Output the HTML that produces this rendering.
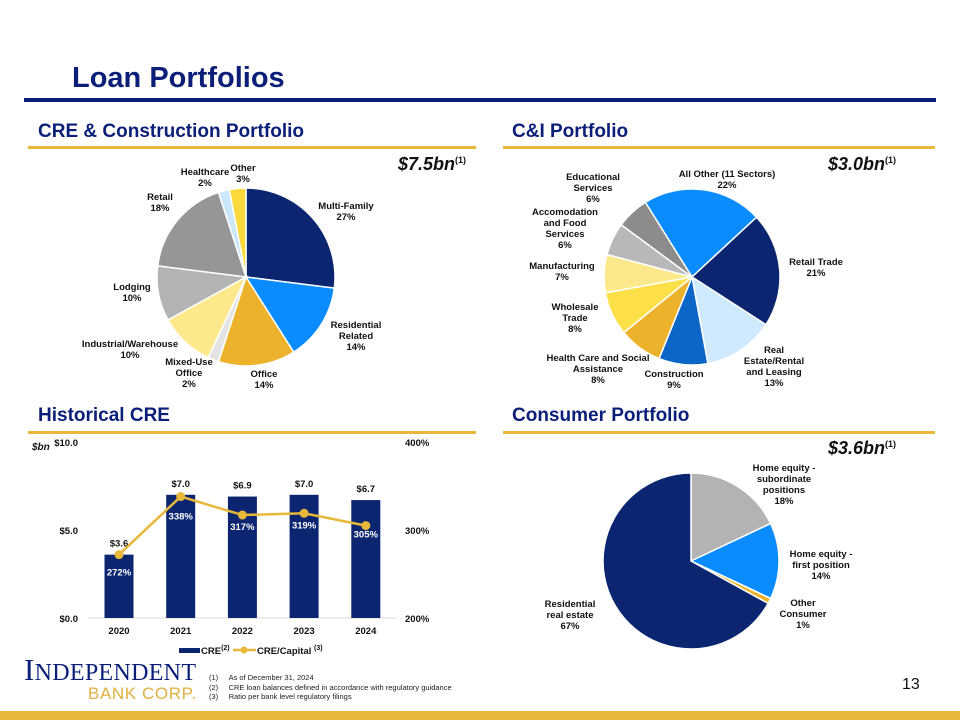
<!DOCTYPE html>
<html><head><meta charset="utf-8"><style>
body{margin:0;background:#fff;font-family:"Liberation Sans",Arial,sans-serif;}
#page{position:relative;width:960px;height:720px;overflow:hidden;background:#fff;}
.abs{position:absolute;}
.h2{position:absolute;font-size:19px;font-weight:bold;color:#0b1f78;}
.gold{position:absolute;height:3px;background:#e8b83a;}
.tot{position:absolute;font-size:18px;font-weight:bold;font-style:italic;color:#111;}
.tot sup{font-size:9px;font-style:normal;}
svg text{font-family:"Liberation Sans",Arial,sans-serif;font-weight:bold;}
</style></head><body>
<div id="page">
<div class="abs" style="left:72px;top:62px;font-size:29px;font-weight:bold;color:#0b1f78;">Loan Portfolios</div>
<div class="abs" style="left:24px;top:98px;width:912px;height:4px;background:#0b1f78;"></div>

<div class="h2" style="left:38px;top:121px;">CRE &amp; Construction Portfolio</div>
<div class="gold" style="left:28px;top:146px;width:448px;"></div>
<div class="h2" style="left:512px;top:121px;">C&amp;I Portfolio</div>
<div class="gold" style="left:503px;top:146px;width:432px;"></div>
<div class="h2" style="left:38px;top:405px;">Historical CRE</div>
<div class="gold" style="left:28px;top:431px;width:448px;"></div>
<div class="h2" style="left:512px;top:405px;">Consumer Portfolio</div>
<div class="gold" style="left:503px;top:431px;width:432px;"></div>

<div class="tot" style="left:398px;top:154px;">$7.5bn<sup>(1)</sup></div>
<div class="tot" style="left:828px;top:154px;">$3.0bn<sup>(1)</sup></div>
<div class="tot" style="left:828px;top:438px;">$3.6bn<sup>(1)</sup></div>

<svg class="abs" style="left:0;top:0" width="960" height="720" id="svg"></svg>

<div class="abs" style="left:24px;top:652px;font-family:'Liberation Serif',serif;font-size:31px;color:#0b1f78;letter-spacing:0.3px;">I<span style="font-size:24px">NDEPENDENT</span></div>
<div class="abs" style="left:88px;top:684px;font-size:17px;color:#e0b040;letter-spacing:0.6px;">BANK CORP.</div>
<div class="abs" style="left:209px;top:673px;font-size:7.5px;color:#222;line-height:9.7px;">
<div>(1)&nbsp;&nbsp;&nbsp;&nbsp;&nbsp;As of December 31, 2024</div>
<div>(2)&nbsp;&nbsp;&nbsp;&nbsp;&nbsp;CRE loan balances defined in accordance with regulatory guidance</div>
<div>(3)&nbsp;&nbsp;&nbsp;&nbsp;&nbsp;Ratio per bank level regulatory filings</div></div>
<div class="abs" style="left:902px;top:676px;font-size:16px;color:#111;">13</div>
<div class="abs" style="left:0;top:711px;width:960px;height:9px;background:#e8b83a;"></div>
</div>
<script>
const NS='http://www.w3.org/2000/svg';
const svg=document.getElementById('svg');
function mk(tag,attrs,parent){const e=document.createElementNS(NS,tag);for(const k in attrs)e.setAttribute(k,attrs[k]);(parent||svg).appendChild(e);return e;}

// CRE pie data
const creLabels=['Multi-Family','Residential Related','Office','Mixed-Use Office','Industrial/Warehouse','Lodging','Retail','Healthcare','Other'];
const creValues=[27,14,14,2,10,10,18,2,3];
const creColors=['#0b2570','#0a8cff','#edb22b','#e4e4e4','#fde98b','#b3b3b3','#969696','#cbe8fb','#f9d93c'];
// C&I pie data
const ciLabels=['All Other (11 Sectors)','Retail Trade','Real Estate/Rental and Leasing','Construction','Health Care and Social Assistance','Wholesale Trade','Manufacturing','Accomodation and Food Services','Educational Services'];
const ciValues=[22,21,13,9,8,8,7,6,6];
const ciColors=['#0a8cff','#0b2570','#cfeafc','#0b66c8','#edb22b','#fde047','#fde98b','#b8b8b8','#8c8c8c'];
// Consumer pie data
const conLabels=['Home equity - subordinate positions','Home equity - first position','Other Consumer','Residential real estate'];
const conValues=[18,14,1,67];
const conColors=['#b3b3b3','#0a8cff','#edb22b','#0b2570'];
// Historical CRE
const years=['2020','2021','2022','2023','2024'];
const creBal=[3.6,7.0,6.9,7.0,6.7];
const creCap=[272,338,317,319,305];
const leftTicks=['$0.0','$5.0','$10.0'];
const rightTicks=['200%','300%','400%'];

function pie(name,cx,cy,r,vals,cols,labels,startDeg){
  const g=mk('g',{});
  
  
  const tot=vals.reduce((a,b)=>a+b,0);
  let a=startDeg*Math.PI/180;
  vals.forEach((v,i)=>{
    const a2=a+v/tot*2*Math.PI;
    const x1=cx+r*Math.sin(a),y1=cy-r*Math.cos(a),x2=cx+r*Math.sin(a2),y2=cy-r*Math.cos(a2);
    const p=mk('path',{d:`M${cx},${cy}L${x1},${y1}A${r},${r} 0 ${a2-a>Math.PI?1:0} 1 ${x2},${y2}Z`,fill:cols[i],stroke:'#fff','stroke-width':1.5},g);
    
    
    a=a2;
  });
}
pie('cre-pie',246,277,89,creValues,creColors,creLabels,0);
pie('ci-pie',692,277,88,ciValues,ciColors,ciLabels,-32);
pie('consumer-pie',691,561,88,conValues,conColors,conLabels,0);

function lbl(x,y,lines,anchor,size){
  const t=mk('text',{x:x,y:y,'font-size':size||9.5,'text-anchor':anchor||'middle',fill:'#111'});
  
  
  lines.forEach((s,i)=>{const ts=mk('tspan',{x:x,dy:i?11:0},t);ts.textContent=s;});
}
lbl(346,209,['Multi-Family','27%']);
lbl(356,328,['Residential','Related','14%']);
lbl(264,377,['Office','14%']);
lbl(189,365,['Mixed-Use','Office','2%']);
lbl(130,347,['Industrial/Warehouse','10%']);
lbl(132,290,['Lodging','10%']);
lbl(160,200,['Retail','18%']);
lbl(205,175,['Healthcare','2%']);
lbl(243,171,['Other','3%']);
lbl(727,177,['All Other (11 Sectors)','22%']);
lbl(816,265,['Retail Trade','21%']);
lbl(774,353,['Real','Estate/Rental','and Leasing','13%']);
lbl(674,377,['Construction','9%']);
lbl(598,361,['Health Care and Social','Assistance','8%']);
lbl(575,310,['Wholesale','Trade','8%']);
lbl(562,269,['Manufacturing','7%']);
lbl(565,215,['Accomodation','and Food','Services','6%']);
lbl(593,180,['Educational','Services','6%']);
lbl(784,471,['Home equity -','subordinate','positions','18%']);
lbl(821,557,['Home equity -','first position','14%']);
lbl(803,606,['Other','Consumer','1%']);
lbl(570,607,['Residential','real estate','67%']);

// bar chart
const y0=618,yTop=442;
const yL=v=>y0-(v/10)*(y0-yTop);
const yR=v=>y0-((v-200)/200)*(y0-yTop);
const xC=i=>119+i*61.7;
const bw=29;
mk('line',{x1:88,x2:397,y1:y0,y2:y0,stroke:'#d9d9d9','stroke-width':1});
leftTicks.forEach((s,i)=>{const t=mk('text',{x:78,y:yL(i*5)+4,'font-size':9.5,'text-anchor':'end',fill:'#111'});t.textContent=s;});
rightTicks.forEach((s,i)=>{const t=mk('text',{x:405,y:yR(200+i*100)+4,'font-size':9.5,fill:'#111'});t.textContent=s;});
const u=mk('text',{x:32,y:450,'font-size':10,'font-style':'italic',fill:'#111'});u.textContent='$bn';

years.forEach((yr,i)=>{
  const r=mk('rect',{x:xC(i)-bw/2,y:yL(creBal[i]),width:bw,height:y0-yL(creBal[i]),fill:'#0b2570'});
  
  const t=mk('text',{x:xC(i),y:yL(creBal[i])-8,'font-size':9.5,'text-anchor':'middle',fill:'#111'});t.textContent='$'+creBal[i].toFixed(1);
  
  const x=mk('text',{x:xC(i),y:634,'font-size':9.5,'text-anchor':'middle',fill:'#111'});x.textContent=yr;
  
});
const pl=mk('polyline',{points:creCap.map((v,i)=>xC(i)+','+yR(v)).join(' '),fill:'none',stroke:'#e8b83a','stroke-width':2.5});

creCap.forEach((v,i)=>{
  const c=mk('circle',{cx:xC(i),cy:yR(v),r:4.5,fill:'#e8b83a'});
  
  const t=mk('text',{x:xC(i),y:yR(v)+(i==0?21:i==1?23:i==4?12:15),'font-size':9.5,'text-anchor':'middle',fill:'#fff'});t.textContent=v+'%';
  
});
// legend
const lg=mk('g',{});
mk('rect',{x:179,y:648,width:21,height:5,fill:'#0b2570'},lg);
let t1=mk('text',{x:201,y:654,'font-size':9.5,fill:'#111'},lg);t1.innerHTML='CRE<tspan font-size="7" dy="-4">(2)</tspan>';
mk('line',{x1:233,x2:256,y1:650,y2:650,stroke:'#e8b83a','stroke-width':2.5},lg);
mk('circle',{cx:244,cy:650,r:3.5,fill:'#e8b83a'},lg);
let t2=mk('text',{x:257,y:654,'font-size':9.5,fill:'#111'},lg);t2.innerHTML='CRE/Capital <tspan font-size="7" dy="-4">(3)</tspan>';
</script>
</body></html>
